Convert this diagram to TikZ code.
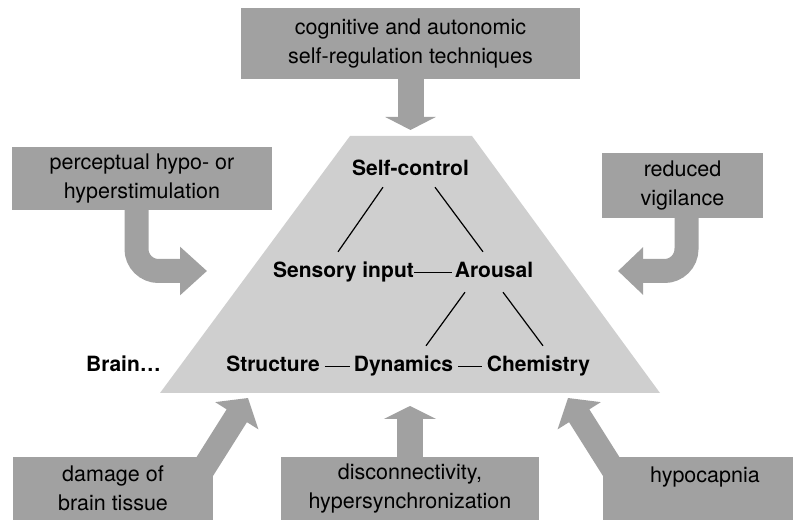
\documentclass[tikz,border=0pt]{standalone}
\usepackage{fontspec}
\setmainfont{TeX Gyre Heros}
\usetikzlibrary{arrows.meta}

\definecolor{boxgray}{gray}{0.63}
\definecolor{pyrgray}{gray}{0.81}

\begin{document}
\begin{tikzpicture}[
  x=1pt, y=-1pt,
  font=\fontsize{21.5}{29}\selectfont,
  srcbox/.style={rectangle, fill=boxgray, align=center, inner sep=0pt},
  keyword/.style={font=\fontsize{21}{25}\selectfont\bfseries, inner sep=0pt, text height=15pt, text depth=4pt, anchor=base},
  feed/.style={draw=boxgray, line width=24pt},
  link/.style={draw=black, line width=1.2pt}
]
  \useasboundingbox (0,0) rectangle (793,521);
  \fill[pyrgray] (160,393) -- (350,136) -- (472,136) -- (660,393) -- cycle;

  \coordinate (tipN) at (410.5,130);
  \coordinate (tipW) at (207,271);
  \coordinate (tipE) at (618,271);
  \coordinate (tipS) at (410,406);
  \coordinate (tipSW) at (248,398);
  \coordinate (tipSE) at (568,398);

  \node[srcbox, minimum width=339pt, minimum height=71pt] (tech) at (410.5,43.5) {cognitive and autonomic\\self-regulation techniques};
  \node[srcbox, minimum width=260pt, minimum height=63pt] (percep) at (142,178.5) {perceptual hypo- or\\hyperstimulation};
  \node[srcbox, minimum width=161pt, minimum height=65pt] (vigil) at (682.5,185.5) {reduced\\vigilance};
  \node[srcbox, minimum width=200pt, minimum height=63pt] (damage) at (113,488.5) {damage of\\brain tissue};
  \node[srcbox, minimum width=258pt, minimum height=63pt] (disconn) at (410,488.5) {disconnectivity,\\hypersynchronization};
  \node[srcbox, minimum width=190pt, minimum height=63pt] (hypobox) at (698,488.5) {};
  \node (hypotext) at (705,477) {hypocapnia};

  \draw[feed, line width=26pt, -{Triangle[length=13pt,width=50pt]}] (tech.south) -- (tipN);
  \draw[feed, rounded corners=22pt, -{Triangle[length=27pt,width=47pt]}] ([xshift=-5.5pt]percep.south) |- (tipW);
  \draw[feed, rounded corners=22pt, -{Triangle[length=25pt,width=46pt]}] ([xshift=4pt]vigil.south) |- (tipE);
  \draw[feed, line width=26pt, -{Triangle[length=13pt,width=52pt]}] (disconn.north) -- (tipS);
  \draw[feed, -{Triangle[length=21pt,width=50pt]}] ([xshift=-13pt,yshift=-17pt]damage.north east) -- (tipSW);
  \draw[feed, -{Triangle[length=21pt,width=50pt]}] ([xshift=13pt,yshift=-17pt]hypobox.north west) -- (tipSE);

  \node[keyword] (self) at (410.5,176) {Self-control};
  \node[keyword] (sensory) at (343.5,278) {Sensory input};
  \node[keyword] (arousal) at (494,278) {Arousal};
  \node[keyword] (structure) at (273,372) {Structure};
  \node[keyword] (dynamics) at (403.5,372) {Dynamics};
  \node[keyword] (chemistry) at (538.5,372) {Chemistry};
  \node[keyword] (brain) at (123.5,372) {Brain…};

  \draw[link, shorten >=3pt] (sensory) -- (arousal);
  \draw[link, shorten <=5pt, shorten >=4pt] (structure) -- (dynamics);
  \draw[link, shorten <=5pt, shorten >=5pt] (dynamics) -- (chemistry);
  \draw[link] ([xshift=-27.5pt,yshift=-7pt]self.south) -- ([xshift=-5.5pt,yshift=11pt]sensory.north);
  \draw[link] ([xshift=24.5pt,yshift=-7pt]self.south) -- ([xshift=-11pt,yshift=11pt]arousal.north);
  \draw[link] ([xshift=-29pt,yshift=-10pt]arousal.south) -- ([xshift=22.5pt,yshift=11pt]dynamics.north);
  \draw[link] ([xshift=9pt,yshift=-10pt]arousal.south) -- ([xshift=4.5pt,yshift=11pt]chemistry.north);
\end{tikzpicture}
\end{document}
